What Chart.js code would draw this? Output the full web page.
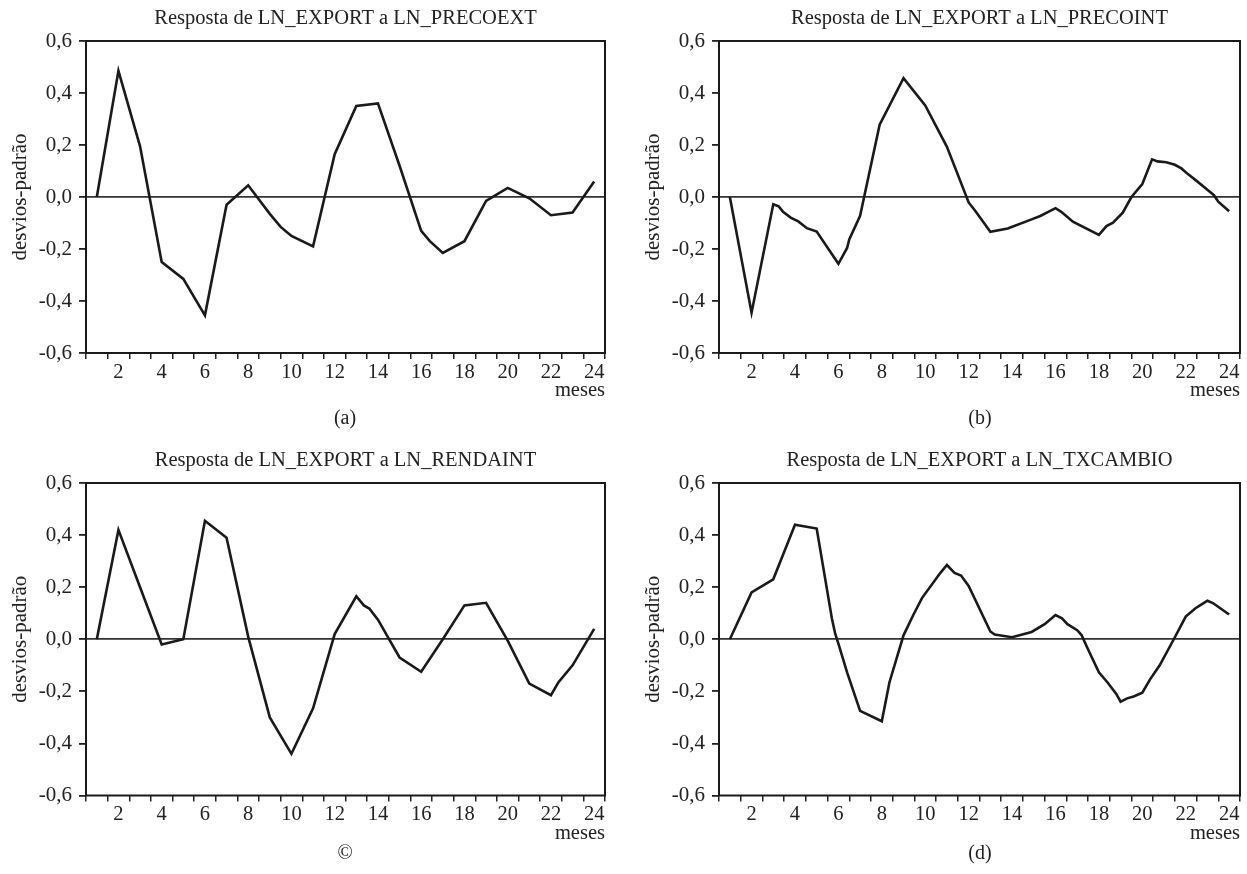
<!DOCTYPE html>
<html>
<head>
<meta charset="utf-8">
<title>Resposta de LN_EXPORT</title>
<script src="https://cdn.jsdelivr.net/npm/chart.js@4.4.1/dist/chart.umd.min.js"></script>
<style>
  html, body { margin: 0; padding: 0; background: #fff; }
  #wrap { position: relative; width: 1247px; height: 874px; overflow: hidden; }
  canvas { position: absolute; }
  .caption { position: absolute; width: 120px; margin-left: -60px; text-align: center;
             font: 20px "Liberation Serif", "Times New Roman", serif; line-height: 22px; color: #222; }
</style>
</head>
<body>
<div id="wrap">
  <canvas id="c0" width="620" height="442" style="left:0;top:0"></canvas>
  <canvas id="c1" width="627" height="442" style="left:620px;top:0"></canvas>
  <canvas id="c2" width="620" height="432" style="left:0;top:442px"></canvas>
  <canvas id="c3" width="627" height="432" style="left:620px;top:442px"></canvas>
  <div class="caption" style="left:345px;top:406px">(a)</div>
  <div class="caption" style="left:980px;top:406px">(b)</div>
  <div class="caption" style="left:345px;top:841px">©</div>
  <div class="caption" style="left:980px;top:841px">(d)</div>
</div>
<script>
// Títulos dos painéis
const titles = [
    'Resposta de LN_EXPORT a LN_PRECOEXT',
    'Resposta de LN_EXPORT a LN_PRECOINT',
    'Resposta de LN_EXPORT a LN_RENDAINT',
    'Resposta de LN_EXPORT a LN_TXCAMBIO'
];

// (a) LN_PRECOEXT
const precoextX = [1, 2, 3, 4, 5, 6, 7, 8, 9, 9.5, 10, 11, 12, 13, 14, 15, 16, 16.4, 17, 18, 19, 20, 21, 22, 23, 24];
const precoextY = [0, 0.485, 0.195, -0.25, -0.315, -0.455, -0.03, 0.045, -0.065, -0.115, -0.15, -0.19, 0.165, 0.35, 0.36, 0.12, -0.13, -0.17, -0.215, -0.17, -0.015, 0.035, -0.005, -0.07, -0.06, 0.06];

// (b) LN_PRECOINT
const precointX = [1, 2, 3, 3.25, 3.45, 3.8, 4.15, 4.55, 5, 6, 6.4, 6.5, 7, 7.9, 9, 10, 11, 12, 12.3, 12.7, 13, 13.8, 14.9, 15.3, 16, 16.25, 16.55, 16.8, 18, 18.35, 18.65, 19.1, 19.5, 20, 20.45, 20.7, 21.1, 21.5, 21.8, 22.1, 22.5, 22.9, 23.3, 23.5, 24];
const precointY = [0, -0.445, -0.028, -0.036, -0.057, -0.079, -0.094, -0.12, -0.133, -0.257, -0.196, -0.163, -0.072, 0.278, 0.457, 0.352, 0.193, -0.021, -0.053, -0.099, -0.134, -0.121, -0.086, -0.073, -0.043, -0.056, -0.077, -0.095, -0.146, -0.112, -0.099, -0.06, 0.0, 0.05, 0.145, 0.137, 0.134, 0.124, 0.11, 0.088, 0.062, 0.035, 0.007, -0.018, -0.055];

// (c) LN_RENDAINT
const rendaintX = [1, 2, 3, 4, 5, 6, 7, 8, 9, 10, 11, 12, 13, 13.35, 13.6, 14, 15, 16, 17, 18, 19, 20, 21, 22, 22.35, 23, 24];
const rendaintY = [0, 0.42, 0.2, -0.02, 0.0, 0.455, 0.39, 0.01, -0.3, -0.44, -0.265, 0.02, 0.165, 0.13, 0.118, 0.075, -0.07, -0.125, 0.0, 0.13, 0.14, -0.005, -0.17, -0.215, -0.165, -0.1, 0.04];

// (d) LN_TXCAMBIO
const txcambioX = [1, 2, 3, 4, 5, 5.7, 5.85, 6, 6.4, 7, 8, 8.35, 9, 9.45, 9.85, 10.7, 11, 11.35, 11.65, 12, 13, 13.2, 14, 14.9, 15.5, 16, 16.3, 16.55, 17, 17.2, 17.45, 18, 18.4, 18.8, 19, 19.3, 19.6, 20, 20.35, 20.8, 21.45, 22, 22.45, 22.75, 23, 23.25, 24];
const txcambioY = [0, 0.18, 0.23, 0.44, 0.425, 0.08, 0.022, -0.017, -0.127, -0.275, -0.315, -0.166, 0.015, 0.093, 0.158, 0.255, 0.285, 0.255, 0.245, 0.205, 0.03, 0.018, 0.008, 0.028, 0.058, 0.093, 0.08, 0.058, 0.035, 0.016, -0.03, -0.127, -0.166, -0.21, -0.24, -0.227, -0.22, -0.205, -0.155, -0.1, 0.0, 0.087, 0.119, 0.135, 0.148, 0.139, 0.095];

// Eixos
const yTicks = [-0.6, -0.4, -0.2, 0.0, 0.2, 0.4, 0.6];
const xLabels = [2, 4, 6, 8, 10, 12, 14, 16, 18, 20, 22, 24];
const nPeriods = 24;
const yTitle = 'desvios-padrão';
const xTitle = 'meses';

const SERIF = '"Liberation Serif", "Times New Roman", serif';
Chart.defaults.font.family = SERIF;
Chart.defaults.color = '#222';

// moldura completa em volta da área do gráfico
const framePlugin = {
    id: 'frame',
    afterDraw(chart) {
        const a = chart.chartArea;
        const ctx = chart.ctx;
        ctx.save();
        ctx.strokeStyle = '#1a1a1a';
        ctx.lineWidth = 2;
        ctx.strokeRect(a.left, a.top, a.right - a.left, a.bottom - a.top);
        ctx.restore();
    }
};

function makeChart(id, title, xs, ys, padLeft, padRight, padBottom) {
    const points = xs.map((x, i) => ({ x: x, y: ys[i] }));
    return new Chart(document.getElementById(id), {
        type: 'line',
        data: {
            datasets: [{
                data: points,
                borderColor: '#1a1a1a',
                borderWidth: 2.6,
                pointRadius: 0,
                tension: 0,
                fill: false
            }]
        },
        options: {
            responsive: false,
            animation: false,
            devicePixelRatio: 1,
            layout: { padding: { left: padLeft, right: padRight, top: 0, bottom: padBottom } },
            plugins: {
                legend: { display: false },
                tooltip: { enabled: false },
                title: {
                    display: true,
                    text: title,
                    fullSize: false,
                    color: '#222',
                    font: { size: 20.5, weight: 'normal' },
                    padding: { top: 6, bottom: 10.4 }
                }
            },
            scales: {
                x: {
                    type: 'linear',
                    min: 0.5,
                    max: nPeriods + 0.5,
                    border: { display: false },
                    afterBuildTicks(scale) {
                        const t = [];
                        for (let k = 0; k <= nPeriods; k++) t.push(k + 0.5);
                        xLabels.forEach(v => t.push(v));
                        t.sort((a, b) => a - b);
                        scale.ticks = t.map(v => ({ value: v }));
                    },
                    afterFit(scale) { scale.height = 50; },
                    grid: {
                        drawOnChartArea: false,
                        tickLength: 6,
                        lineWidth: 1.5,
                        tickColor: ctx => Number.isInteger(ctx.tick.value) ? 'rgba(0,0,0,0)' : '#222'
                    },
                    ticks: {
                        autoSkip: false,
                        maxRotation: 0,
                        padding: 1,
                        color: '#222',
                        font: { size: 20.5 },
                        callback: v => (Number.isInteger(v) && v % 2 === 0) ? String(v) : ''
                    },
                    title: {
                        display: true,
                        text: xTitle,
                        align: 'end',
                        color: '#222',
                        font: { size: 20.5 },
                        padding: { top: 0, bottom: 0 }
                    }
                },
                y: {
                    min: -0.6,
                    max: 0.6,
                    border: { display: false },
                    afterBuildTicks(scale) {
                        scale.ticks = yTicks.map(v => ({ value: v }));
                    },
                    afterFit(scale) { scale.width = 86; },
                    grid: {
                        tickLength: 7,
                        lineWidth: 1.8,
                        color: ctx => (ctx.tick && Math.abs(ctx.tick.value) < 1e-9) ? '#333' : 'rgba(0,0,0,0)',
                        tickColor: '#222'
                    },
                    ticks: {
                        padding: 7,
                        color: '#222',
                        font: { size: 21 },
                        callback: v => (Math.abs(v) < 1e-9 ? 0 : v).toFixed(1).replace('.', ',')
                    },
                    title: {
                        display: true,
                        text: yTitle,
                        color: '#222',
                        font: { size: 21 },
                        padding: { top: 8, bottom: 0 }
                    }
                }
            }
        },
        plugins: [framePlugin]
    });
}

makeChart('c0', titles[0], precoextX, precoextY, 0, 15, 39);
makeChart('c1', titles[1], precointX, precointY, 13, 7, 39);
makeChart('c2', titles[2], rendaintX, rendaintY, 0, 15, 28.5);
makeChart('c3', titles[3], txcambioX, txcambioY, 13, 7, 28.5);
</script>
</body>
</html>
